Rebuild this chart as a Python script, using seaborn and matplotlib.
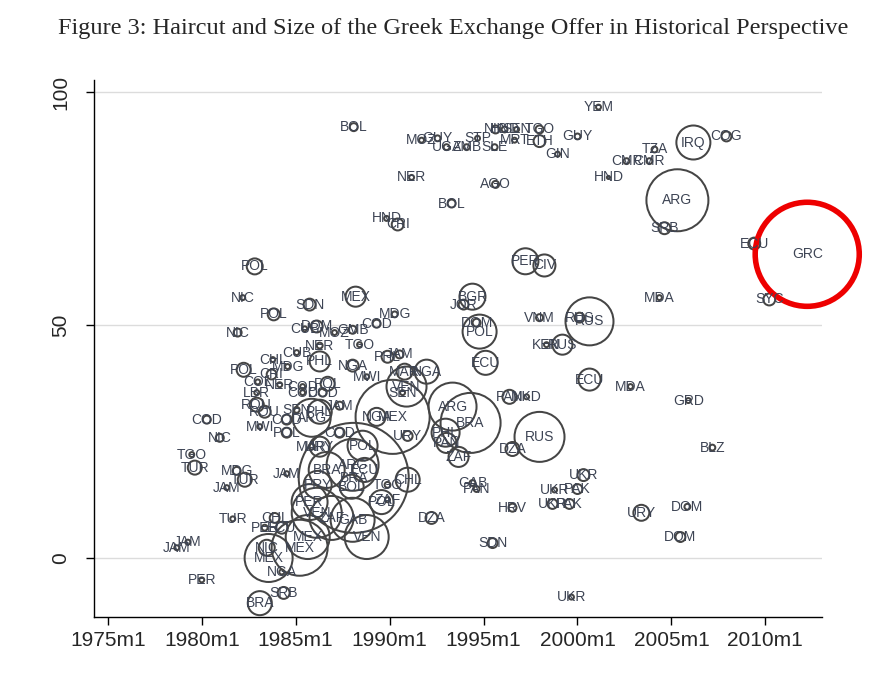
import numpy as np
import pandas as pd
import seaborn as sns
import matplotlib.pyplot as plt
from matplotlib.ticker import FixedLocator

# Exchange offers: country, date (decimal year), haircut (%), size (bubble area units)
country = [
    'YEM', 'BOL', 'MOZ', 'GUY', 'UGA', 'ZMB', 'STP', 'SLE', 'NIC', 'HND',
    'SEN', 'TGO', 'MRT', 'ETH', 'GUY', 'GIN', 'TZA', 'CMR', 'CMR', 'HND',
    'IRQ', 'COG', 'NER', 'AGO', 'BOL', 'HND', 'CRI', 'ARG', 'SRB', 'ECU',
    'SYC', 'MDA', 'POL', 'PER', 'CIV', 'NIC', 'SDN', 'MEX', 'POL', 'NIC',
    'MDG', 'COD', 'CUB', 'DOM', 'MOZ', 'GMB', 'BGR', 'JOR', 'DOM', 'POL',
    'ECU', 'VNM', 'RUS', 'RUS', 'KEN', 'RUS', 'ECU', 'MDA', 'GRD', 'BLZ',
    'PAN', 'MKD', 'RUS', 'DZA', 'ARG', 'BRA', 'PHL', 'PAN', 'ZAF', 'URY',
    'MEX', 'NGA', 'VEN', 'SEN', 'NGA', 'MAR', 'JAM', 'PHL', 'MWI', 'NGA',
    'TGO', 'NER', 'CUB', 'PHL', 'CHL', 'MDG', 'POL', 'CRI', 'COL', 'NER',
    'COD', 'POL', 'COD', 'COD', 'LBR', 'ROU', 'JAM', 'SEN', 'ARG', 'PHL',
    'ROU', 'COD', 'MWI', 'COD', 'POL', 'NIC', 'TGO', 'TUR', 'MDG', 'TUR',
    'JAM', 'JAM', 'TUR', 'JAM', 'JAM', 'PER', 'BRA', 'SRB', 'CHL', 'PER',
    'ECU', 'MEX', 'MEX', 'NIC', 'MEX', 'NGA', 'VEN', 'BRA', 'URY', 'MAR',
    'POL', 'COD', 'BRA', 'ARG', 'ECU', 'PRY', 'BOL', 'PER', 'VEN', 'ZAF',
    'GAB', 'CHL', 'POL', 'ZAF', 'TGO', 'UKR', 'GAB', 'PAN', 'UKR', 'PAK',
    'UKR', 'PAK', 'HRV', 'URY', 'DOM', 'DOM', 'DZA', 'SDN', 'UKR',
]
date = [
    2001.12, 1988.09, 1991.70, 1992.55, 1993.03, 1994.10, 1994.68, 1995.59, 1995.64, 1996.12,
    1996.76, 1997.98, 1996.65, 1997.98, 2000.00, 1998.94, 2004.10, 2002.61, 2003.83, 2001.65,
    2006.17, 2007.93, 1991.17, 1995.64, 1993.30, 1989.84, 1990.43, 2005.32, 2004.63, 2009.41,
    2010.21, 2004.36, 1982.82, 1997.23, 1998.24, 1982.18, 1985.74, 1988.19, 1983.83, 1981.91,
    1990.27, 1989.31, 1985.48, 1986.12, 1987.07, 1988.03, 1994.41, 1993.94, 1994.63, 1994.79,
    1995.11, 1997.98, 2000.11, 2000.64, 1998.35, 1999.20, 2000.64, 2002.82, 2005.90, 2007.18,
    1996.38, 1997.29, 1997.98, 1996.54, 1993.35, 1994.31, 1992.98, 1993.03, 1993.67, 1990.96,
    1990.16, 1989.31, 1990.90, 1990.69, 1991.97, 1990.80, 1990.53, 1989.89, 1988.78, 1988.03,
    1988.40, 1986.28, 1985.05, 1986.28, 1983.78, 1984.57, 1982.23, 1983.72, 1982.98, 1984.15,
    1985.37, 1986.70, 1985.37, 1986.44, 1982.93, 1982.93, 1987.34, 1985.05, 1985.85, 1986.28,
    1983.35, 1980.27, 1983.09, 1984.52, 1984.52, 1980.96, 1979.47, 1979.63, 1981.86, 1982.29,
    1981.33, 1984.52, 1981.65, 1979.26, 1978.67, 1980.00, 1983.09, 1984.36, 1983.88, 1983.35,
    1984.26, 1985.64, 1985.21, 1983.46, 1983.56, 1984.26, 1988.78, 1988.09, 1986.28, 1985.85,
    1988.56, 1987.34, 1986.65, 1988.03, 1988.67, 1986.17, 1987.98, 1985.74, 1986.12, 1986.91,
    1988.03, 1990.96, 1989.57, 1989.89, 1989.89, 2000.32, 1994.41, 1994.63, 1998.78, 2000.00,
    1998.67, 1999.57, 1996.54, 2003.40, 2005.85, 2005.48, 1992.23, 1995.48, 1999.68,
]
haircut = [
    96.8, 92.5, 89.7, 90.1, 88.2, 88.2, 90.1, 88.2, 92.0, 92.0,
    92.0, 92.0, 89.7, 89.5, 90.5, 86.7, 87.7, 85.2, 85.2, 81.7,
    89.2, 90.5, 81.7, 80.2, 76.1, 72.9, 71.6, 76.8, 70.8, 67.5,
    55.5, 55.9, 62.6, 63.7, 62.8, 55.9, 54.4, 56.1, 52.3, 48.4,
    52.3, 50.3, 49.2, 49.7, 48.4, 49.0, 56.1, 54.4, 50.5, 48.6,
    41.9, 51.6, 51.6, 50.8, 45.8, 45.8, 38.3, 36.8, 33.8, 23.7,
    34.6, 34.6, 26.0, 23.4, 32.5, 29.0, 26.9, 24.7, 21.7, 26.2,
    30.3, 30.3, 36.8, 35.5, 40.0, 40.0, 43.7, 43.2, 38.9, 41.3,
    45.8, 45.6, 44.1, 42.2, 42.6, 41.1, 40.4, 39.4, 37.8, 37.2,
    36.8, 37.4, 35.5, 35.5, 35.5, 32.9, 32.7, 31.8, 30.1, 31.4,
    31.4, 29.7, 28.2, 29.7, 26.9, 25.8, 22.2, 19.4, 18.7, 16.8,
    15.1, 18.1, 8.4, 3.4, 2.2, -4.7, -9.7, -7.5, 8.6, 6.5,
    6.5, 4.5, 2.2, 2.2, 0.0, -3.0, 4.5, 17.2, 23.9, 23.9,
    24.1, 26.9, 18.9, 20.0, 18.9, 15.7, 15.3, 12.0, 9.7, 8.6,
    8.2, 16.8, 12.0, 12.5, 15.7, 17.8, 16.1, 14.8, 14.6, 14.8,
    11.6, 11.6, 10.8, 9.7, 11.0, 4.5, 8.6, 3.2, -8.4,
]
size = [
    0.5, 1.3, 0.5, 0.7, 0.7, 0.7, 0.5, 0.7, 1.3, 0.7,
    0.5, 1.3, 0.5, 2.9, 0.7, 0.5, 0.7, 0.7, 0.7, 0.2,
    23.6, 2.0, 0.5, 1.0, 1.3, 0.5, 2.9, 78.4, 2.9, 2.9,
    2.9, 0.5, 5.2, 13.8, 9.9, 0.5, 2.9, 8.2, 2.9, 1.3,
    0.7, 1.3, 0.5, 2.9, 0.5, 1.3, 13.8, 2.0, 1.3, 23.6,
    11.8, 1.0, 2.0, 47.0, 0.5, 8.2, 9.9, 0.5, 0.5, 0.7,
    4.0, 0.5, 51.0, 4.0, 47.0, 73.5, 16.0, 8.2, 8.2, 2.0,
    112.0, 6.6, 32.7, 0.5, 11.8, 5.2, 1.3, 2.9, 0.5, 2.9,
    0.5, 0.7, 0.5, 8.2, 0.5, 0.5, 4.0, 2.0, 0.5, 0.5,
    0.5, 4.0, 0.5, 1.3, 0.5, 4.0, 1.3, 0.7, 29.5, 11.8,
    2.9, 1.3, 0.5, 2.0, 2.0, 1.3, 0.5, 4.0, 1.3, 4.0,
    0.5, 0.5, 0.5, 0.5, 0.5, 0.5, 11.8, 2.9, 2.0, 0.7,
    2.9, 39.5, 64.0, 5.2, 47.0, 0.5, 39.5, 247.0, 8.2, 0.7,
    18.4, 2.0, 26.4, 55.0, 11.8, 16.0, 11.8, 26.4, 51.0, 39.5,
    39.5, 11.8, 11.8, 0.5, 0.7, 2.9, 0.7, 0.7, 0.5, 2.0,
    2.0, 2.0, 1.3, 5.2, 0.7, 2.0, 2.9, 2.0, 0.5,
]

# Greek exchange (highlighted)
grc_date = [2012.23]
grc_haircut = [65.2]
grc_size = [221.0]

years = [1975, 1980, 1985, 1990, 1995, 2000, 2005, 2010]
year_labels = [f'{y}m1' for y in years]

df = pd.DataFrame({'country': country, 'date': date, 'haircut': haircut, 'size': size})
grc = pd.DataFrame({'country': ['GRC'], 'date': grc_date, 'haircut': grc_haircut, 'size': grc_size})

sns.set_style('ticks')
plt.rcParams['font.family'] = ['Liberation Sans', 'DejaVu Sans']

VMAX = 250.0
K = 25.4  # pt^2 per size unit

fig = plt.figure(figsize=(8.76, 6.73), dpi=100)
ax = fig.add_axes([0.107, 0.083, 0.831, 0.798])

sns.scatterplot(data=df, x='date', y='haircut', size='size', sizes=(0, K * VMAX),
                size_norm=(0, VMAX), facecolor='none', edgecolor='#454545',
                linewidth=1.45, legend=False, ax=ax, zorder=3)
sns.scatterplot(data=grc, x='date', y='haircut', size='size', sizes=(0, K * VMAX),
                size_norm=(0, VMAX), facecolor='none', edgecolor='#ee0000',
                linewidth=4, legend=False, ax=ax, zorder=4, clip_on=False)

for _, row in pd.concat([df, grc]).iterrows():
    ax.text(row['date'], row['haircut'], row['country'], ha='center', va='center',
            fontsize=10, color='#3d4454', zorder=5)

ax.set_xlim(1974.25, 2013.0)
ax.set_ylim(-12.7, 102.6)
ax.xaxis.set_major_locator(FixedLocator(years))
ax.set_xticklabels(year_labels)
ax.yaxis.set_major_locator(FixedLocator([0, 50, 100]))
ax.set_yticklabels(['0', '50', '100'], rotation=90, va='center')
ax.tick_params(axis='both', labelsize=15, length=6, width=1, color='black')
ax.tick_params(axis='y', pad=11)
ax.tick_params(axis='x', pad=4)
ax.yaxis.grid(True, color='#dcdcdc', linewidth=1)
ax.set_axisbelow(True)
ax.set_xlabel('')
ax.set_ylabel('')
sns.despine(ax=ax)
for sp in ['left', 'bottom']:
    ax.spines[sp].set_color('black')
    ax.spines[sp].set_linewidth(1)

fig.text(0.517, 0.958, 'Figure 3: Haircut and Size of the Greek Exchange Offer in Historical Perspective',
         ha='center', va='center', fontsize=17.5, family=['Liberation Serif', 'DejaVu Serif'])

fig.savefig('out.png', dpi=100)
